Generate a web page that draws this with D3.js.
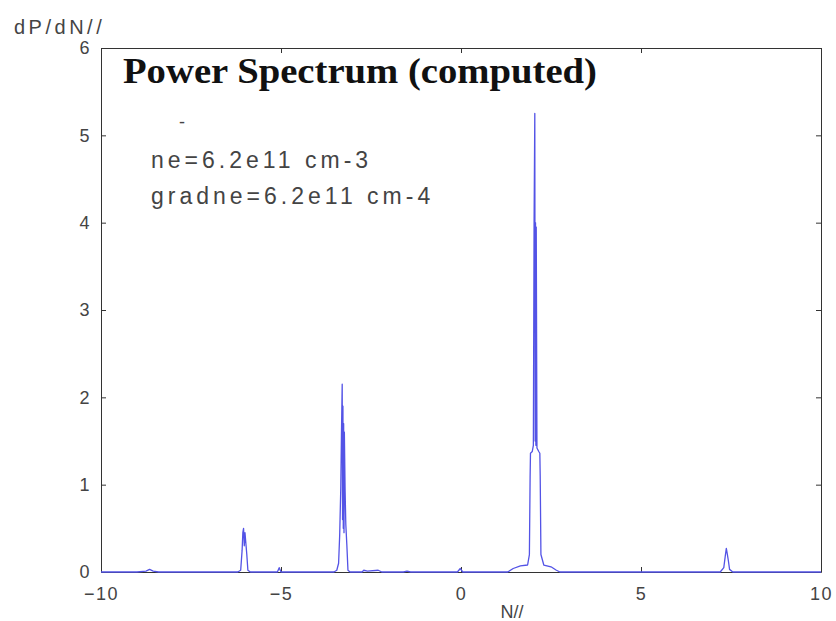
<!DOCTYPE html>
<html>
<head>
<meta charset="utf-8">
<script src="https://cdn.jsdelivr.net/npm/d3@7"></script>
<style>
  body { margin: 0; background: #fff; }
  svg { display: block; }
  text { font-family: "Liberation Sans", Arial, sans-serif; fill: #444; }
</style>
</head>
<body>
<svg id="spectrum"></svg>
<script>
const width = 836;
const height = 621;

// spectrum samples: N// and dP/dN//
const nVals = [-10, -9.0, -8.75, -8.65, -8.55, -8.4,
  -6.2, -6.12, -6.08, -6.06, -6.04, -6.02, -6.0, -5.98, -5.95, -5.92, -5.85,
  -5.1, -5.05, -5.0,
  -3.53, -3.45, -3.40, -3.37, -3.34, -3.32, -3.30, -3.29, -3.28, -3.27, -3.26, -3.25, -3.24, -3.22, -3.20, -3.17, -3.14, -3.08,
  -2.75, -2.7, -2.6, -2.3, -2.2, -1.6, -1.5, -1.4,
  -0.1, -0.02, 0.05,
  1.3, 1.45, 1.65, 1.85, 1.9, 1.92, 1.93, 1.98, 2.01, 2.03, 2.05, 2.06, 2.07, 2.08, 2.09, 2.11, 2.16, 2.19, 2.2, 2.22, 2.3, 2.5, 2.65, 2.75,
  7.2, 7.3, 7.34, 7.37, 7.4, 7.43, 7.46, 7.55, 10];
const dpVals = [0, 0, 0.01, 0.03, 0.01, 0,
  0, 0.02, 0.25, 0.45, 0.5, 0.3, 0.45, 0.35, 0.2, 0.02, 0,
  0, 0.05, 0,
  0, 0.02, 0.1, 0.42, 0.95, 1.6, 2.15, 0.6, 1.9, 0.5, 1.7, 0.45, 1.6, 0.95, 0.55, 0.3, 0.02, 0,
  0, 0.02, 0.01, 0.02, 0, 0, 0.01, 0,
  0, 0.04, 0,
  0, 0.04, 0.07, 0.08, 0.2, 1.1, 1.36, 1.38, 1.45, 4.0, 5.25, 1.5, 4.0, 1.45, 3.95, 1.42, 1.38, 1.36, 1.1, 0.2, 0.08, 0.06, 0.02, 0,
  0, 0.05, 0.18, 0.27, 0.2, 0.12, 0.03, 0, 0];

const xTicks = [-10, -5, 0, 5, 10];
const yTicks = [0, 1, 2, 3, 4, 5, 6];
const notes = ["ne=6.2e11 cm-3", "gradne=6.2e11 cm-4"];

let svg = d3.select('#spectrum')
  .attr('width', width)
  .attr('height', height);

let xScale = d3.scaleLinear().domain([-10, 10]).range([101, 821]);
let yScale = d3.scaleLinear().domain([0, 6]).range([572, 48]);

// frame with inward ticks on all four sides
function styleAxis(g) {
  g.selectAll('.domain').attr('stroke', '#333');
  g.selectAll('.tick line').attr('stroke', '#333');
  g.selectAll('.tick text')
    .style('font-family', '"Liberation Sans", Arial, sans-serif')
    .style('font-size', '18px')
    .style('letter-spacing', '1.5px')
    .attr('fill', '#444');
}

svg.append('g')
  .attr('transform', 'translate(0,' + yScale(0) + ')')
  .call(d3.axisBottom(xScale).tickValues(xTicks).tickSizeInner(-5).tickSizeOuter(0).tickPadding(15)
    .tickFormat(d => d < 0 ? '\u2212' + Math.abs(d) : d))
  .call(styleAxis);

svg.append('g')
  .attr('transform', 'translate(0,' + yScale(6) + ')')
  .call(d3.axisTop(xScale).tickValues(xTicks).tickSizeInner(-5).tickSizeOuter(0).tickFormat(''))
  .call(styleAxis);

svg.append('g')
  .attr('transform', 'translate(' + xScale(-10) + ',0)')
  .call(d3.axisLeft(yScale).tickValues(yTicks).tickSizeInner(-5).tickSizeOuter(0).tickPadding(10)
    .tickFormat(d3.format('d')))
  .call(styleAxis);

svg.append('g')
  .attr('transform', 'translate(' + xScale(10) + ',0)')
  .call(d3.axisRight(yScale).tickValues(yTicks).tickSizeInner(-5).tickSizeOuter(0).tickFormat(''))
  .call(styleAxis);

// spectrum line
let points = nVals.map((n, i) => [n, dpVals[i]]);
let line = d3.line()
  .x(d => xScale(d[0]))
  .y(d => yScale(d[1]));

svg.append('path')
  .datum(points)
  .attr('d', line)
  .attr('fill', 'none')
  .attr('stroke', '#5353e6')
  .attr('stroke-width', 1.3)
  .attr('stroke-linejoin', 'round');

// labels
svg.append('text')
  .attr('x', 14)
  .attr('y', 34)
  .style('font-size', '20px')
  .style('letter-spacing', '3.5px')
  .text('dP/dN//');

svg.append('text')
  .attr('x', 512)
  .attr('y', 618)
  .attr('text-anchor', 'middle')
  .style('font-size', '18px')
  .text('N//');

svg.append('text')
  .attr('x', 123)
  .attr('y', 83)
  .attr('textLength', 474)
  .attr('lengthAdjust', 'spacingAndGlyphs')
  .style('font-family', '"Liberation Serif", "Times New Roman", serif')
  .style('font-weight', 'bold')
  .style('font-size', '36px')
  .style('fill', '#111')
  .text('Power Spectrum (computed)');

svg.append('text')
  .attr('x', 179)
  .attr('y', 128)
  .style('font-size', '18px')
  .text('-');

svg.selectAll('text.note')
  .data(notes)
  .join('text')
  .attr('class', 'note')
  .attr('x', 151)
  .attr('y', (d, i) => 168 + i * 36)
  .style('font-size', '23px')
  .style('letter-spacing', '4px')
  .text(d => d);
</script>
</body>
</html>
